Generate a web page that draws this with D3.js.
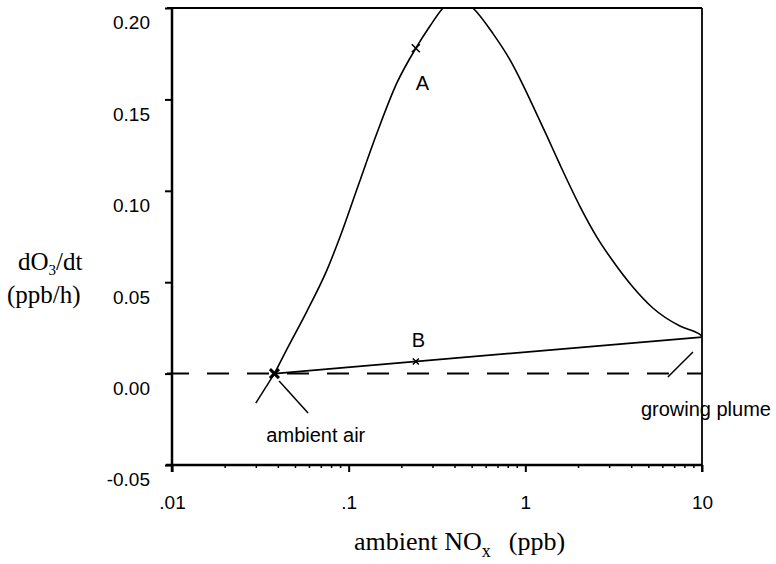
<!DOCTYPE html>
<html>
  <head>
    <meta charset="utf-8">
    <title>dO3/dt vs ambient NOx</title>
    <script src="https://d3js.org/d3.v7.min.js"></script>
    <style>
      body {
        margin: 0;
        background: #fff;
      }
      .tick-label {
        font-family: "Liberation Sans", Arial, sans-serif;
        font-size: 19px;
        fill: #000;
      }
      .note {
        font-family: "Liberation Sans", Arial, sans-serif;
        font-size: 20px;
        fill: #000;
      }
      .axis-title {
        font-family: "Liberation Serif", "Times New Roman", serif;
        fill: #000;
      }
    </style>
  </head>
  <body>
    <div id="chart"></div>

    <script>
      // curve A: rate of ozone production along ambient NOx
      const curveNox = [0.038, 0.0448, 0.0581, 0.0753, 0.0893, 0.113, 0.1446, 0.1875, 0.24, 0.288,
                        0.342, 0.41, 0.505, 0.656, 0.819, 0.969, 1.178, 1.324, 1.57, 2.04,
                        2.54, 3.13, 4.06, 5.27, 7.5, 9.73, 10];
      const curveRate = [0, 0.0135, 0.0342, 0.0566, 0.0747, 0.1026, 0.1316, 0.159, 0.178, 0.19,
                         0.2, 0.206, 0.2, 0.186, 0.1716, 0.158, 0.1406, 0.13, 0.1143, 0.0914,
                         0.0747, 0.0616, 0.0474, 0.0359, 0.026, 0.0214, 0.0205];

      // line B: dilution of the growing plume back to ambient air
      const lineNox = [0.038, 10];
      const lineRate = [0, 0.02];

      // marked points
      const markNames = ["A", "B", "ambient"];
      const markNox = [0.24, 0.24, 0.038];
      const markRate = [0.178, 0.0066, 0];

      const yTicks = [-0.05, 0, 0.05, 0.1, 0.15, 0.2];
      const xTicks = [0.01, 0.1, 1, 10];
      const xTickLabels = [".01", ".1", "1", "10"];

      // leader lines for the notes, [nox, rate] pairs
      const leaders = [
        [[0.038, 0], [0.0298, -0.0161]],
        [[0.0404, -0.004], [0.0589, -0.0216]],
        [[6.41, -0.0019], [8.89, 0.0118]]
      ];
      const noteText = ["ambient air", "growing plume"];
      const noteNox = [0.0342, 4.51];
      const noteRate = [-0.0374, -0.0232];

      const width = 776, height = 564;
      const svg = d3.select("#chart").append("svg")
        .attr("width", width)
        .attr("height", height);

      const x = d3.scaleLog().domain([0.01, 10]).range([172, 702]);
      const y = d3.scaleLinear().domain([-0.05, 0.2]).range([465, 8]);

      svg.append("clipPath").attr("id", "plot")
        .append("rect")
          .attr("x", x.range()[0]).attr("y", y.range()[1])
          .attr("width", x.range()[1] - x.range()[0])
          .attr("height", y.range()[0] - y.range()[1]);

      // zero line, dashed
      svg.append("line")
        .attr("x1", x(0.01) - 5).attr("x2", x(10))
        .attr("y1", y(0)).attr("y2", y(0))
        .attr("stroke", "#000")
        .attr("stroke-width", 2)
        .attr("stroke-dasharray", "22,18");

      // y axis
      const yAxis = d3.axisLeft(y)
        .tickValues(yTicks)
        .tickSize(7)
        .tickSizeOuter(0)
        .tickFormat(d => d.toFixed(2));
      const yG = svg.append("g")
        .attr("transform", `translate(${x(0.01)},0)`)
        .call(yAxis);
      yG.select(".domain").remove();
      yG.selectAll(".tick line").attr("stroke-width", 2);
      yG.selectAll(".tick text")
        .attr("class", "tick-label")
        .attr("font-family", null).attr("font-size", null)
        .attr("x", -22)
        .attr("dy", "1.1em");

      // x axis: decades plus log minor ticks
      const minor = [];
      for (let d = 0.01; d < 10; d *= 10) {
        for (let k = 2; k <= 9; k++) minor.push(d * k);
      }
      const xAxis = d3.axisBottom(x)
        .tickValues(xTicks)
        .tickSize(7)
        .tickSizeOuter(0)
        .tickPadding(24)
        .tickFormat((d, i) => xTickLabels[i]);
      const xG = svg.append("g")
        .attr("transform", `translate(0,${y(-0.05)})`)
        .call(xAxis);
      xG.select(".domain").remove();
      xG.selectAll(".tick line").attr("stroke-width", 2);
      xG.selectAll(".tick text")
        .attr("class", "tick-label")
        .attr("font-family", null).attr("font-size", null);
      xG.selectAll(".minor")
        .data(minor)
        .join("line")
          .attr("class", "minor")
          .attr("x1", d => x(d)).attr("x2", d => x(d))
          .attr("y1", 0).attr("y2", 3)
          .attr("stroke", "#000")
          .attr("stroke-width", 1.5);

      // frame: heavy left and bottom, light top and right
      svg.append("line")
        .attr("x1", x(0.01)).attr("x2", x(0.01))
        .attr("y1", y(0.2)).attr("y2", y(-0.05) + 7)
        .attr("stroke", "#000").attr("stroke-width", 2.5);
      svg.append("line")
        .attr("x1", x(0.01) - 6).attr("x2", x(10))
        .attr("y1", y(-0.05)).attr("y2", y(-0.05))
        .attr("stroke", "#000").attr("stroke-width", 2.5);
      svg.append("line")
        .attr("x1", x(0.01) - 5).attr("x2", x(10))
        .attr("y1", y(0.2)).attr("y2", y(0.2))
        .attr("stroke", "#000").attr("stroke-width", 1.8);

      // curve A
      const line = d3.line()
        .x(d => x(d[0]))
        .y(d => y(d[1]))
        .curve(d3.curveMonotoneX);
      svg.append("path")
        .datum(d3.zip(curveNox, curveRate))
        .attr("clip-path", "url(#plot)")
        .attr("d", line)
        .attr("fill", "none")
        .attr("stroke", "#000")
        .attr("stroke-width", 1.6);

      // line B
      svg.append("path")
        .datum(d3.zip(lineNox, lineRate))
        .attr("d", d3.line().x(d => x(d[0])).y(d => y(d[1])))
        .attr("fill", "none")
        .attr("stroke", "#000")
        .attr("stroke-width", 1.8);

      // leaders
      svg.selectAll(".leader")
        .data(leaders)
        .join("line")
          .attr("class", "leader")
          .attr("x1", d => x(d[0][0])).attr("y1", d => y(d[0][1]))
          .attr("x2", d => x(d[1][0])).attr("y2", d => y(d[1][1]))
          .attr("stroke", "#000")
          .attr("stroke-width", 1.5);

      // x markers
      const marks = d3.zip(markNames, markNox, markRate);
      const markSize = { A: 4, B: 3, ambient: 4.5 };
      marks.forEach(([name, nx, rt]) => {
        const cx = x(nx), cy = y(rt), s = markSize[name];
        const g = svg.append("g")
          .attr("stroke", "#000")
          .attr("stroke-width", name === "ambient" ? 3 : 1.6);
        g.append("line").attr("x1", cx - s).attr("y1", cy - s).attr("x2", cx + s).attr("y2", cy + s);
        g.append("line").attr("x1", cx - s).attr("y1", cy + s).attr("x2", cx + s).attr("y2", cy - s);
      });

      svg.append("text")
        .attr("class", "note")
        .attr("font-size", 19)
        .attr("x", x(markNox[0]))
        .attr("y", y(markRate[0]) + 42)
        .text("A");
      svg.append("text")
        .attr("class", "note")
        .attr("font-size", 19)
        .attr("x", x(markNox[1]) - 4)
        .attr("y", y(markRate[1]) - 15)
        .text("B");

      svg.selectAll(".notes")
        .data(d3.zip(noteText, noteNox, noteRate))
        .join("text")
          .attr("class", "note")
          .attr("x", d => x(d[1]))
          .attr("y", d => y(d[2]))
          .text(d => d[0]);

      // right border, drawn last so it cuts the note like the original
      svg.append("line")
        .attr("x1", x(10)).attr("x2", x(10))
        .attr("y1", y(0.2)).attr("y2", y(-0.05) + 7)
        .attr("stroke", "#000").attr("stroke-width", 1.8);

      // axis titles
      const yTitle = svg.append("text")
        .attr("class", "axis-title")
        .attr("font-size", 25);
      yTitle.append("tspan").attr("x", 18).attr("y", 270).text("dO");
      yTitle.append("tspan").attr("font-size", 15).attr("dy", 5).text("3");
      yTitle.append("tspan").attr("dy", -5).text("/dt");
      svg.append("text")
        .attr("class", "axis-title")
        .attr("font-size", 25)
        .attr("x", 7).attr("y", 303)
        .text("(ppb/h)");

      const xTitle = svg.append("text")
        .attr("class", "axis-title")
        .attr("font-size", 26)
        .attr("x", 354).attr("y", 550);
      xTitle.append("tspan").text("ambient NO");
      xTitle.append("tspan").attr("font-size", 18).attr("dy", 7).text("x");
      xTitle.append("tspan").attr("dx", 18).attr("dy", -7).text("(ppb)");
    </script>
  </body>
</html>
